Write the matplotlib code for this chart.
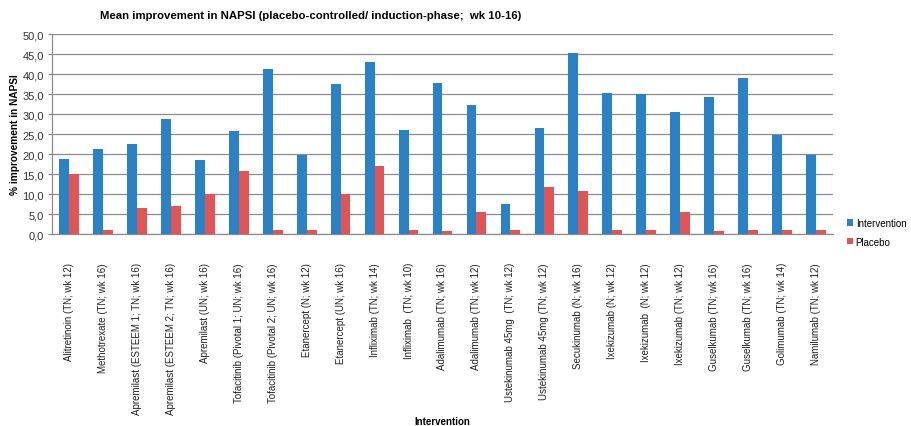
import matplotlib
matplotlib.use("Agg")
import matplotlib.pyplot as plt
import numpy as np

plt.rcParams['font.family'] = ['Liberation Sans', 'DejaVu Sans']

categories = [
    "Alitretinoin (TN; wk 12)",
    "Methotrexate (TN; wk 16)",
    "Apremilast (ESTEEM 1; TN; wk 16)",
    "Apremilast (ESTEEM 2; TN; wk 16)",
    "Apremilast (UN; wk 16)",
    "Tofacitinib (Pivotal 1; UN; wk 16)",
    "Tofacitinib (Pivotal 2; UN; wk 16)",
    "Etanercept (N; wk 12)",
    "Etanercept (UN; wk 16)",
    "Infliximab (TN; wk 14)",
    "Infliximab  (TN; wk 10)",
    "Adalimumab (TN; wk 16)",
    "Adalimumab (TN; wk 12)",
    "Ustekinumab 45mg  (TN; wk 12)",
    "Ustekinumab 45mg (TN; wk 12)",
    "Secukinumab (N; wk 16)",
    "Ixekizumab (N; wk 12)",
    "Ixekizumab  (N; wk 12)",
    "Ixekizumab (TN; wk 12)",
    "Guselkumab (TN; wk 16)",
    "Guselkumab (TN; wk 16)",
    "Golimumab (TN; wk 14)",
    "Namilumab (TN; wk 12)",
]

intervention = [18.8, 21.4, 22.5, 28.9, 18.6, 25.9, 41.4, 19.9, 37.7, 43.1,
                26.0, 37.9, 32.4, 7.6, 26.6, 45.3, 35.4, 35.0, 30.7, 34.3,
                39.0, 24.9, 19.9]
placebo = [15.2, 1.0, 6.5, 7.1, 10.0, 15.8, 1.0, 1.0, 10.0, 17.1,
           1.0, 0.9, 5.6, 1.0, 11.8, 10.8, 1.0, 1.0, 5.6, 0.9,
           1.0, 1.0, 1.0]

yticks = np.arange(0, 50.1, 5)
ytick_labels = [f"{v:.1f}".replace(".", ",") for v in yticks]

blue = "#2A81C4"
red = "#E05555"
grid_c = "#8C8C8C"

fig = plt.figure(figsize=(9.12, 4.27), dpi=100)
ax = fig.add_axes([52 / 912, 1 - 235.3 / 427, (833 - 52) / 912, 200 / 427])

x = np.arange(len(categories))
w = 0.29
ax.bar(x - w / 2, intervention, width=w, color=blue, label="Intervention", zorder=3)
ax.bar(x + w / 2, placebo, width=w, color=red, label="Placebo", zorder=3)

ax.set_xlim(-0.5, len(categories) - 0.5)
ax.set_ylim(0, 50)
ax.set_yticks(yticks)
ax.set_yticklabels(ytick_labels, fontsize=8, color="#333333")
ax.yaxis.grid(True, color=grid_c, linewidth=0.9, zorder=0)
ax.set_axisbelow(True)

ax.set_xticks(x)
ax.set_xticklabels(categories, rotation=90, fontsize=7, color="#222222")
ax.tick_params(axis="x", length=0, pad=20)
ax.tick_params(axis="y", length=3, color=grid_c, width=0.9, pad=3)

for s in ["top", "right"]:
    ax.spines[s].set_visible(False)
ax.spines["left"].set_color(grid_c)
ax.spines["bottom"].set_color(grid_c)
ax.spines["left"].set_linewidth(0.9)
ax.spines["bottom"].set_linewidth(0.9)

fig.text(15 / 912, 1 - 135 / 427, "% improvement in NAPSI", fontsize=7.3,
         fontweight="bold", rotation=90, ha="center", va="center")
fig.text(442 / 912, 1 - 422 / 427, "Intervention", fontsize=7, fontweight="bold",
         ha="center", va="center")
fig.text(100 / 912, 1 - 16 / 427,
         "Mean improvement in NAPSI (placebo-controlled/ induction-phase;  wk 10-16)",
         fontsize=8.2, fontweight="bold", ha="left", va="center")

leg = fig.legend(loc="upper left", bbox_to_anchor=(843 / 912, 1 - 215 / 427),
                 frameon=False, fontsize=7, handlelength=0.6, handleheight=0.6,
                 handletextpad=0.3, labelspacing=0.9, borderaxespad=0)

fig.savefig("out.png", dpi=100)
